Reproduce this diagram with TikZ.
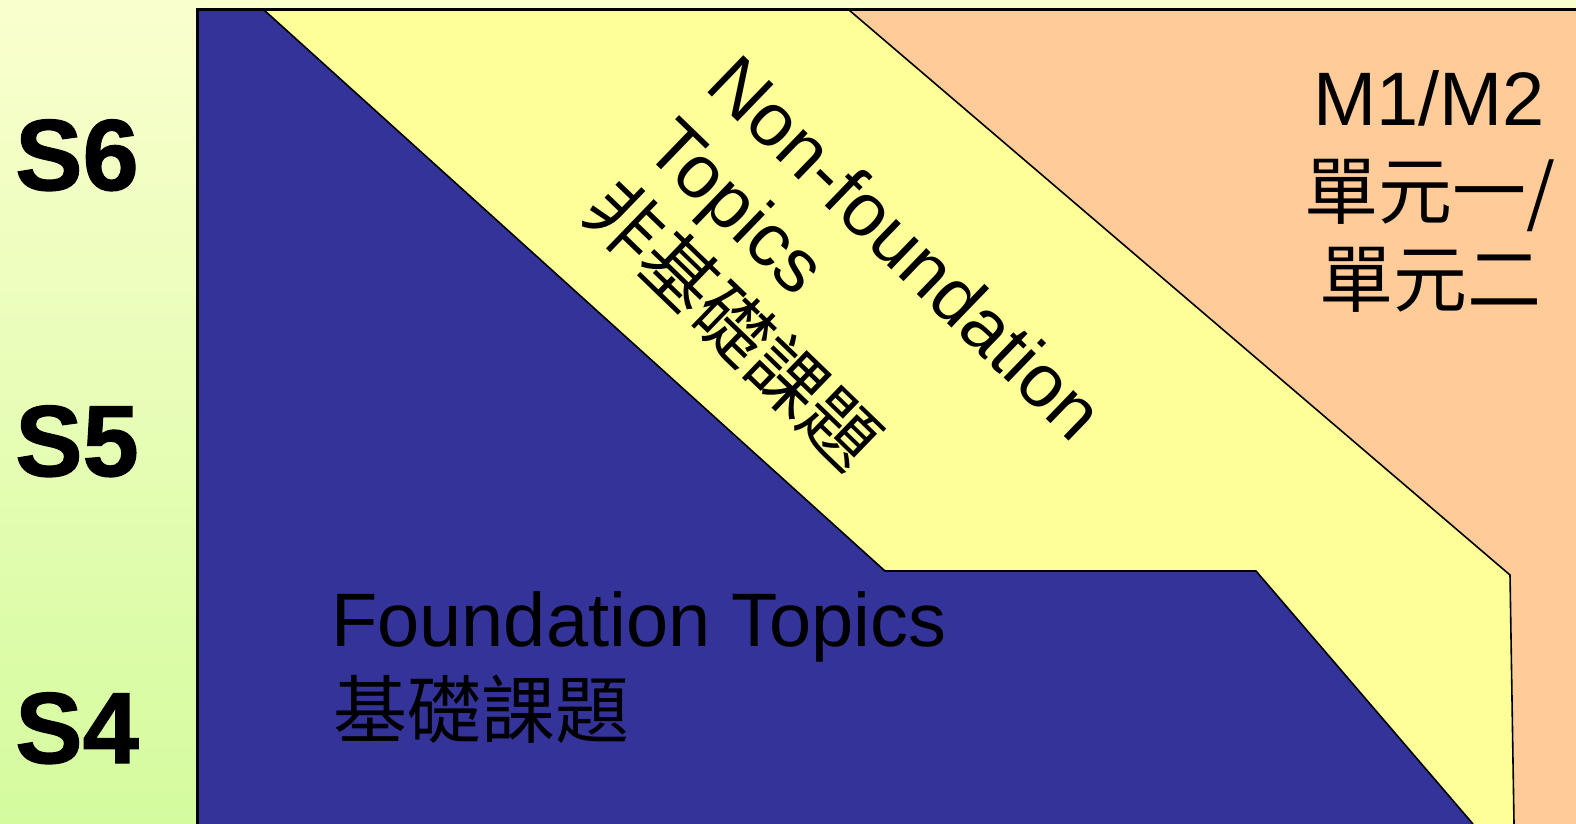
\documentclass[tikz,border=0pt]{standalone}
\usepackage{fontspec}
\setmainfont{Liberation Sans}
\newfontfamily\heavy[FakeBold=1.2]{Liberation Sans Bold}
\newfontfamily\cjk{Noto Sans CJK TC}
\definecolor{bgtop}{RGB}{250,255,206}
\definecolor{bgbot}{RGB}{212,251,158}
\definecolor{fblue}{RGB}{51,51,153}
\definecolor{nyellow}{RGB}{255,255,153}
\definecolor{morange}{RGB}{255,204,153}
\tikzset{
  level/.style={inner sep=0pt, anchor=base, font=\heavy\fontsize{101}{101}\selectfont},
  big/.style={inner sep=0pt, font=\fontsize{75.8}{88}\selectfont},
  bigcjk/.style={inner sep=0pt, font=\cjk\fontsize{74}{88}\selectfont},
  rot/.style={inner sep=0pt, anchor=base west, rotate=-44, font=\fontsize{75}{88}\selectfont},
  rotcjk/.style={inner sep=0pt, anchor=base west, rotate=-44, font=\cjk\fontsize{75}{88}\selectfont},
  edge/.style={draw=black, line width=1.6pt, line join=miter},
  frame/.style={draw=black, line width=3pt}
}
\begin{document}
\begin{tikzpicture}[x=1pt,y=-1pt]
\useasboundingbox (0,0) rectangle (1576,824);
\shade[top color=bgtop, bottom color=bgbot] (0,0) rectangle (1576,824);
% regions
\fill[fblue] (197,10) -- (264,10) -- (885,571) -- (1256,571) -- (1473,824) -- (197,824) -- cycle;
\fill[nyellow] (264,10) -- (849,10) -- (1510,575) -- (1514,824) -- (1473,824) -- (1256,571) -- (885,571) -- cycle;
\fill[morange] (849,10) -- (1576,10) -- (1576,824) -- (1514,824) -- (1510,575) -- cycle;
% boundaries
\draw[edge] (264,10) -- (885,571) -- (1256,571) -- (1473,824);
\draw[edge] (849,10) -- (1510,575) -- (1514,824);
\draw[frame] (197,824) -- (197,10) -- (1576,10);
% level labels
\node[level] (s6) at (77,190) {S6};
\node[level] (s5) at (77,476) {S5};
\node[level] (s4) at (77,763) {S4};
% foundation
\node[big, anchor=base west] (fen) at (331,646) {Foundation Topics};
\node[bigcjk, anchor=base west] (fzh) at (333,737) {基礎課題};
% non-foundation (rotated)
\node[rot] (nf1) at (703,88) {Non-foundation};
\node[rot] (nf2) at (642,151) {Topics};
\node[rotcjk] (nf3) at (579,214) {非基礎課題};
% M1/M2
\node[big, anchor=base] (m1) at (1429,126) {M1/M2};
\node[bigcjk, anchor=base] (m2) at (1430,218) {單元一/};
\node[bigcjk, anchor=base] (m3) at (1430,306) {單元二};
\end{tikzpicture}
\end{document}
